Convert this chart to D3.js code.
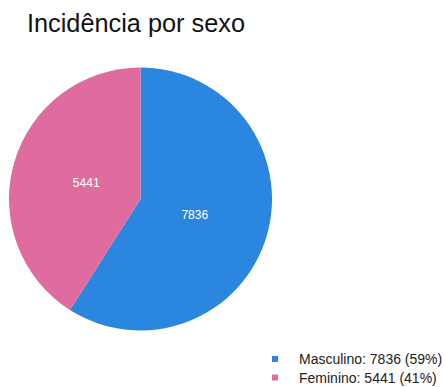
<!DOCTYPE html>
<html>
<head>
<meta charset="utf-8">
<script src="https://cdn.jsdelivr.net/npm/d3@7"></script>
<style>
  html, body { margin: 0; padding: 0; background: #fff; }
  svg { display: block; font-family: Arial, "Liberation Sans", sans-serif; }
</style>
</head>
<body>
<svg id="chart" width="445" height="387"></svg>
<script>
// Casos por sexo
const categories = ["Masculino", "Feminino"];
const values = [7836, 5441];
const colors = ["#2b86e0", "#e06b9f"];

const svg = d3.select("#chart");

svg.append("text")
  .attr("x", 27)
  .attr("y", 32)
  .attr("font-size", 25.3)
  .attr("fill", "#111")
  .text("Incidência por sexo");

const cx = 140.5, cy = 199, r = 131.5;
const pie = d3.pie().sort(null).value(d => d)(values);
const arc = d3.arc().innerRadius(0).outerRadius(r);
const labelArc = d3.arc().innerRadius(r * 0.43).outerRadius(r * 0.43);

const g = svg.append("g").attr("transform", `translate(${cx},${cy})`);
g.selectAll("path.slice")
  .data(pie)
  .join("path")
  .attr("class", "slice")
  .attr("d", arc)
  .attr("fill", (d, i) => colors[i]);

g.selectAll("text.val")
  .data(pie)
  .join("text")
  .attr("class", "val")
  .attr("transform", d => `translate(${labelArc.centroid(d)})`)
  .attr("text-anchor", "middle")
  .attr("dy", "0.35em")
  .attr("font-size", 12)
  .attr("fill", "#fff")
  .text(d => d.data);

// Legenda
const total = d3.sum(values);
const legend = svg.append("g").attr("transform", "translate(272,356)");
const items = legend.selectAll("g")
  .data(categories)
  .join("g")
  .attr("transform", (d, i) => `translate(0,${i * 18.5})`);
items.append("rect")
  .attr("width", 6).attr("height", 6)
  .attr("fill", (d, i) => colors[i]);
items.append("text")
  .attr("x", 27)
  .attr("y", 8)
  .attr("font-size", 14)
  .attr("fill", "#222")
  .text((d, i) => `${d}: ${values[i]} (${Math.round(values[i] / total * 100)}%)`);
</script>
</body>
</html>
